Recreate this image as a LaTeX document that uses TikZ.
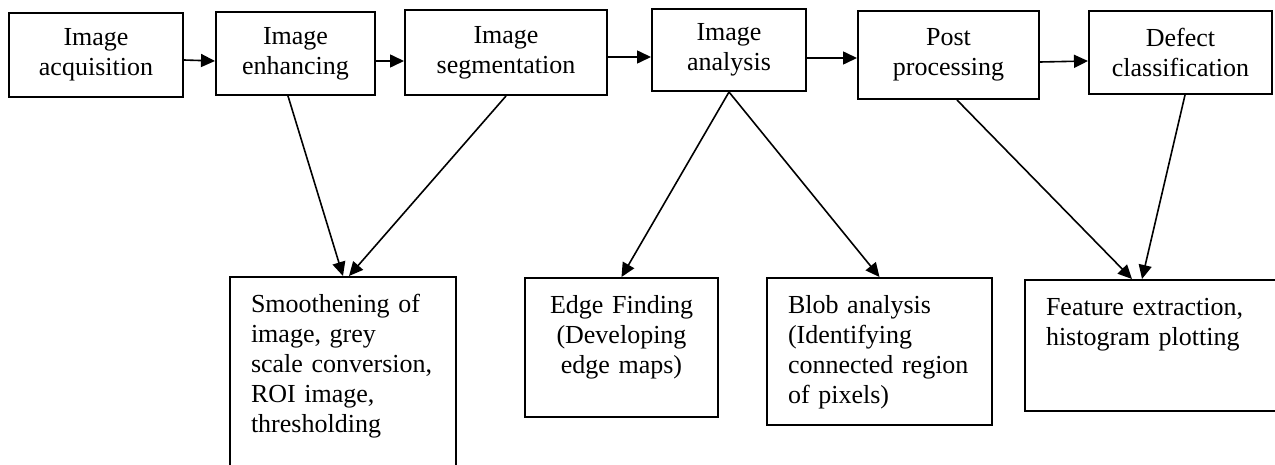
\documentclass[tikz,border=0pt]{standalone}
\usepackage{fontspec}
\setmainfont{Liberation Serif}
\usetikzlibrary{arrows.meta}
\begin{document}
\begin{tikzpicture}[x=0.5pt, y=-0.5pt, >={Triangle[length=7pt, width=6.5pt]},
		topbox/.style={draw, line width=1pt, align=center, inner sep=0pt,
				font=\fontsize{13pt}{15pt}\selectfont},
		lowbox/.style={draw, line width=1pt, anchor=north west, inner xsep=10.5pt,
				inner ysep=7.75pt, text height=10pt, align=left,
				font=\fontsize{13pt}{15pt}\selectfont},
		flow/.style={->, line width=0.8pt}]
	\useasboundingbox (0,0) rectangle (1275,465);
	\clip (0,0) rectangle (1275,465);
	\node[topbox, minimum width=87pt, minimum height=42pt] (acq) at (96,55) {Image\\acquisition};
	\node[topbox, minimum width=79.5pt, minimum height=41.5pt] (enh) at (295.5,53.5) {Image\\enhancing};
	\node[topbox, minimum width=101pt, minimum height=42.5pt] (seg) at (506,52.5) {Image\\segmentation};
	\node[topbox, minimum width=77pt, minimum height=41pt] (ana) at (729,50) {Image\\analysis};
	\node[topbox, minimum width=90.5pt, minimum height=44pt] (post) at (948.5,55) {Post\\processing};
	\node[topbox, minimum width=91.5pt, minimum height=41.5pt] (def) at (1180.5,52.5) {Defect\\classification};
	\node[lowbox, text width=92pt, text depth=76pt] (smooth) at (229,276)
		{Smoothening of\\image, grey\\scale conversion,\\ROI image,\\thresholding};
	\node[lowbox, align=center, inner xsep=5pt, text width=86.5pt, text depth=44pt] (edge) at (524,277)
		{Edge Finding\\(Developing\\edge maps)};
	\node[lowbox, text width=91.5pt, text depth=48pt] (blob) at (766,277)
		{Blob analysis\\(Identifying\\connected region\\of pixels)};
	\node[lowbox, text width=117pt, text depth=40pt] (feat) at (1024,279)
		{Feature extraction,\\histogram plotting};
	\draw[flow] ([yshift=-2.5pt]acq.east) -- ([yshift=-3.75pt]enh.west);
	\draw[flow] ([yshift=-3.75pt]enh.east) -- ([yshift=-4.25pt]seg.west);
	\draw[flow] ([yshift=-2.25pt]seg.east) -- ([yshift=-3.5pt]ana.west);
	\draw[flow] ([yshift=-4pt]ana.east) -- ([yshift=-1.5pt]post.west);
	\draw[flow] ([yshift=-3.5pt]post.east) -- ([yshift=-4.25pt]def.west);
	\draw[flow] ([xshift=-3.75pt]enh.south) -- (smooth.north);
	\draw[flow] (seg.south) -- ([xshift=3pt]smooth.north);
	\draw[flow] (ana.south) -- (edge.north);
	\draw[flow] (ana.south) -- (blob.north);
	\draw[flow] ([xshift=4.25pt]post.south) -- ([xshift=54pt]feat.north west);
	\draw[flow] ([xshift=2.25pt]def.south) -- ([xshift=59pt]feat.north west);
\end{tikzpicture}
\end{document}
